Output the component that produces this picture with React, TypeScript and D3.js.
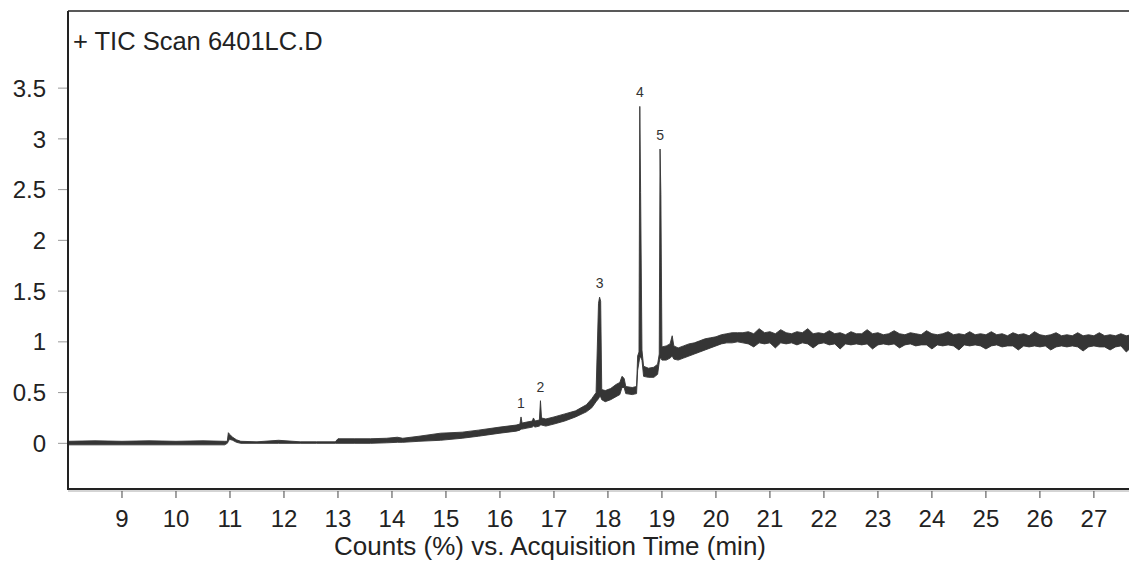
import React from "react";
import * as d3 from "d3";

const retentionTime = [
  8.0, 8.5, 9.0, 9.5, 10.0, 10.5, 10.9, 10.95, 10.97, 10.99, 11.05, 11.12, 11.2,
  11.5, 11.9, 12.3, 12.6, 12.95, 13.0, 13.3, 13.6, 13.9, 14.1, 14.2,
  14.5, 14.9, 15.3, 15.6, 16.0, 16.3,
  16.37, 16.39, 16.41, 16.5, 16.6, 16.62, 16.65, 16.73, 16.75, 16.77, 16.85,
  17.0, 17.2, 17.4, 17.6, 17.7, 17.78,
  17.825, 17.845, 17.865, 17.885, 17.95, 18.05, 18.15, 18.22, 18.26, 18.3, 18.33,
  18.45, 18.53, 18.55, 18.575,
  18.59, 18.605, 18.63, 18.66, 18.75, 18.85, 18.92, 18.95,
  18.965, 18.98, 19.0, 19.08, 19.15, 19.19, 19.22, 19.3, 19.4, 19.5, 19.6,
  19.7, 19.8, 19.9, 20.0, 20.1, 20.2, 20.3, 20.4,
  20.5, 20.6, 20.7, 20.8, 20.9, 21.0, 21.1, 21.2, 21.3, 21.4,
  21.5, 21.6, 21.7, 21.8, 21.9, 22.0, 22.1, 22.2, 22.3, 22.4,
  22.5, 22.6, 22.7, 22.8, 22.9, 23.0, 23.1, 23.2, 23.3, 23.4,
  23.5, 23.6, 23.7, 23.8, 23.9, 24.0, 24.1, 24.2, 24.3, 24.4,
  24.5, 24.6, 24.7, 24.8, 24.9, 25.0, 25.1, 25.2, 25.3, 25.4,
  25.5, 25.6, 25.7, 25.8, 25.9, 26.0, 26.1, 26.2, 26.3, 26.4,
  26.5, 26.6, 26.7, 26.8, 26.9, 27.0, 27.1, 27.2, 27.3, 27.4,
  27.5, 27.6, 27.7,
];

const countsLow = [
  -0.015, -0.015, -0.015, -0.015, -0.015, -0.015, -0.015, 0.0, 0.02, 0.04, 0.03, 0.01, 0.0,
  0.0, 0.0, 0.0, 0.0, 0.0, 0.0, 0.0, 0.0, 0.005, 0.01, 0.01,
  0.02, 0.03, 0.05, 0.07, 0.1, 0.12,
  0.13, 0.14, 0.14, 0.15, 0.16, 0.17, 0.16, 0.17, 0.18, 0.18, 0.17,
  0.19, 0.22, 0.26, 0.31, 0.35, 0.41,
  0.44, 0.46, 0.46, 0.43, 0.41, 0.43, 0.46, 0.48, 0.55, 0.55, 0.49,
  0.48, 0.49, 0.72, 0.8,
  0.85, 0.85, 0.82, 0.66, 0.65, 0.65, 0.68, 0.8,
  0.84, 0.84, 0.82, 0.82, 0.84, 0.86, 0.83, 0.82, 0.84, 0.86, 0.88,
  0.9, 0.92, 0.94, 0.96, 0.98, 0.99, 0.99, 1.0,
  0.99, 0.98, 0.95, 0.99, 0.98, 0.99, 0.94, 0.99, 0.98, 0.99,
  0.97, 0.99, 0.98, 0.94, 0.98, 0.99, 0.97, 0.98, 0.93, 0.98,
  0.97, 0.98, 0.97, 0.98, 0.93, 0.97, 0.98, 0.97, 0.98, 0.94,
  0.97, 0.98, 0.96, 0.97, 0.97, 0.93, 0.97, 0.96, 0.97, 0.96,
  0.92, 0.97, 0.96, 0.97, 0.96, 0.93, 0.96, 0.97, 0.95, 0.96,
  0.96, 0.92, 0.96, 0.95, 0.96, 0.95, 0.96, 0.92, 0.95, 0.96,
  0.95, 0.96, 0.95, 0.91, 0.95, 0.96, 0.95, 0.95, 0.92, 0.95,
  0.96, 0.9, 0.95,
];

const countsHigh = [
  0.02, 0.025, 0.02, 0.025, 0.02, 0.025, 0.02, 0.02, 0.105, 0.09, 0.06, 0.035, 0.02,
  0.015, 0.03, 0.015, 0.015, 0.015, 0.045, 0.045, 0.045, 0.05, 0.06, 0.05,
  0.07, 0.1, 0.11, 0.13, 0.16, 0.18,
  0.19, 0.26, 0.2, 0.21, 0.22, 0.25, 0.22, 0.23, 0.42, 0.25, 0.24,
  0.26, 0.29, 0.32, 0.38, 0.44, 0.5,
  1.38, 1.44, 1.4, 0.53, 0.52, 0.54, 0.58, 0.6, 0.66, 0.64, 0.56,
  0.55, 0.56, 0.86, 0.9,
  3.32, 2.47, 0.92, 0.76, 0.74, 0.75, 0.78, 0.88,
  2.9, 2.45, 0.95, 0.96, 0.98, 1.06, 0.96, 0.94, 0.96, 0.98, 0.99,
  1.01, 1.03, 1.04, 1.05, 1.07, 1.08, 1.09, 1.09,
  1.09, 1.1, 1.08, 1.13, 1.09, 1.1, 1.08, 1.12, 1.09, 1.08,
  1.1, 1.09, 1.13, 1.08, 1.09, 1.08, 1.11, 1.08, 1.09, 1.07,
  1.1, 1.08, 1.08, 1.12, 1.08, 1.09, 1.07, 1.08, 1.11, 1.08,
  1.07, 1.09, 1.08, 1.07, 1.11, 1.08, 1.07, 1.08, 1.1, 1.07,
  1.08, 1.07, 1.1, 1.07, 1.08, 1.07, 1.1, 1.07, 1.08, 1.06,
  1.09, 1.07, 1.08, 1.06, 1.1, 1.07, 1.06, 1.07, 1.09, 1.06,
  1.07, 1.06, 1.09, 1.06, 1.07, 1.06, 1.09, 1.06, 1.07, 1.06,
  1.08, 1.06, 1.07,
];

const peakLabels = ["1", "2", "3", "4", "5"];
const peakTimes = [16.39, 16.75, 17.845, 18.59, 18.965];
const peakCounts = [0.26, 0.42, 1.44, 3.32, 2.9];

const xTicks = [9, 10, 11, 12, 13, 14, 15, 16, 17, 18, 19, 20, 21, 22, 23, 24, 25, 26, 27];
const yTicks = [0, 0.5, 1, 1.5, 2, 2.5, 3, 3.5];

const title = "+ TIC Scan 6401LC.D";
const xTitle = "Counts (%) vs. Acquisition Time (min)";

export default function App() {
  const width = 1129;
  const height = 561;
  const plot = { left: 68, top: 11, right: 1129, bottom: 489 };
  const font = "'Liberation Sans', Arial, sans-serif";

  const x = d3.scaleLinear().domain([8.0, 27.65]).range([plot.left, plot.right]);
  const y = d3.scaleLinear().domain([-0.45, 4.26]).range([plot.bottom, plot.top]);

  const idx = d3.range(retentionTime.length);
  const band = d3
    .area<number>()
    .x((i) => x(retentionTime[i]))
    .y0((i) => y(countsLow[i]))
    .y1((i) => y(countsHigh[i]));

  return (
    <svg
      width={width}
      height={height}
      style={{ position: "absolute", left: 0, top: 0, background: "#fff" }}
      fontFamily={font}
    >
      <defs>
        <clipPath id="plotClip">
          <rect x={plot.left} y={plot.top} width={plot.right - plot.left} height={plot.bottom - plot.top} />
        </clipPath>
      </defs>

      {/* trace */}
      <path
        d={band(idx) || ""}
        fill="#353535"
        stroke="#353535"
        strokeWidth={0.9}
        strokeLinejoin="miter"
        clipPath="url(#plotClip)"
      />

      {/* peak numbers */}
      {peakLabels.map((lab, i) => (
        <text
          key={lab}
          x={x(peakTimes[i])}
          y={y(peakCounts[i]) - 9}
          textAnchor="middle"
          fontSize={14}
          fill="#333"
        >
          {lab}
        </text>
      ))}

      {/* frame */}
      <line x1={plot.left} x2={plot.right} y1={plot.top} y2={plot.top} stroke="#222" strokeWidth={1.5} />
      <line x1={plot.left} x2={plot.left} y1={plot.top} y2={plot.bottom + 1} stroke="#222" strokeWidth={2} />
      <line x1={plot.left} x2={plot.right} y1={plot.bottom} y2={plot.bottom} stroke="#222" strokeWidth={2} />
      <line x1={plot.left} x2={plot.right} y1={plot.bottom + 2} y2={plot.bottom + 2} stroke="#aaa" strokeWidth={1} />

      {/* y axis */}
      {yTicks.map((v) => (
        <g key={v}>
          <line x1={58} x2={plot.left - 1} y1={y(v)} y2={y(v)} stroke="#999" strokeWidth={1} />
          <text x={46} y={y(v)} dy="0.36em" textAnchor="end" fontSize={24} fill="#222">
            {String(v)}
          </text>
        </g>
      ))}

      {/* x axis */}
      {xTicks.map((t) => (
        <g key={t}>
          <line x1={x(t)} x2={x(t)} y1={plot.bottom + 2} y2={plot.bottom + 9} stroke="#444" strokeWidth={1} />
          <text x={x(t)} y={527} textAnchor="middle" fontSize={24} fill="#222">
            {t}
          </text>
        </g>
      ))}

      <text x={550} y={555} textAnchor="middle" fontSize={26} fill="#222">
        {xTitle}
      </text>
      <text x={73} y={50} fontSize={25.5} fill="#222">
        {title}
      </text>
    </svg>
  );
}
